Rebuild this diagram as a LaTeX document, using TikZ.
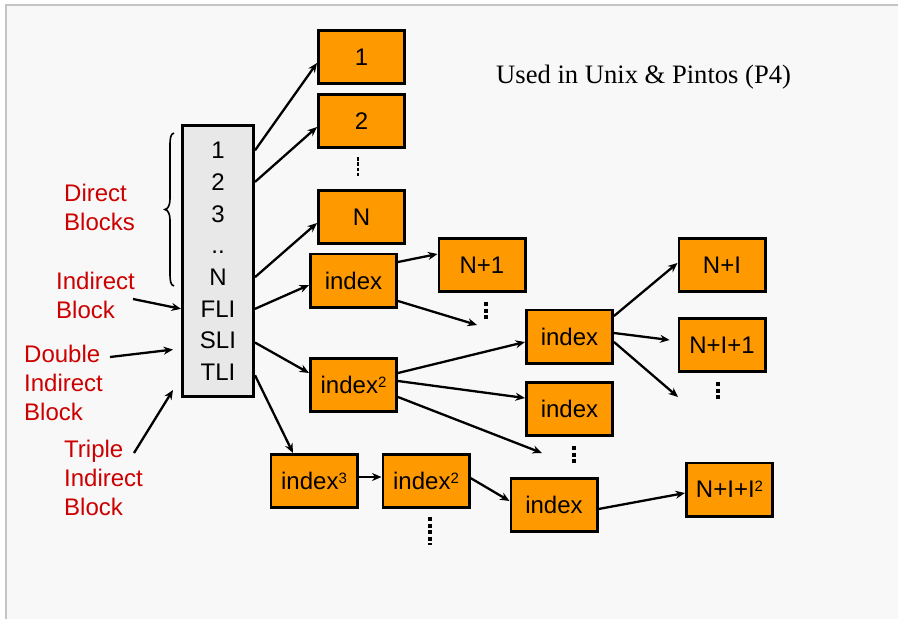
\documentclass[tikz,border=0pt]{standalone}
\usepackage{fontspec}
\setmainfont{Liberation Sans}
\newfontfamily\serifface{Liberation Serif}
\usetikzlibrary{arrows.meta,calc}
\definecolor{bg}{HTML}{F8F8F8}
\definecolor{framegray}{HTML}{C4C4C4}
\definecolor{org}{HTML}{FF9900}
\definecolor{inodegray}{HTML}{E8E8E8}
\definecolor{lbl}{HTML}{CC0000}
\newcommand{\sqx}[1]{\raisebox{6.5pt}{\fontsize{15}{15}\selectfont #1}}
\begin{document}
\begin{tikzpicture}[x=1pt,y=-1pt,
  blk/.style={draw=black,line width=2.6pt,fill=org,minimum width=86.4pt,minimum height=53.4pt,inner sep=0pt,font=\fontsize{24}{28}\selectfont},
  arr/.style={line width=2.3pt,-{Stealth[length=9.5pt,width=8pt]}},
  lbltext/.style={text=lbl,align=left,anchor=north west,inner sep=0pt,font=\fontsize{24}{29}\selectfont},
  inl/.style={anchor=base,inner sep=0pt,font=\fontsize{24}{28}\selectfont},
  vdots/.style={line width=3.2pt,dash pattern=on 4pt off 2.5pt},
  thindots/.style={line width=2.4pt,dash pattern=on 3.5pt off 1.8pt}]
\useasboundingbox (0,0) rectangle (898,619);
\fill[white] (0,0) rectangle (898,619);
\fill[bg] (6,5) rectangle (898,619);
\draw[framegray,line width=1.7pt] (5.8,619) -- (5.8,5) -- (898,5);

% title
\node[anchor=base west,inner sep=0pt,font=\serifface\fontsize{26.6}{30}\selectfont] (title) at (496,83.5) {Used in Unix \& Pintos (P4)};

% inode
\node[draw=black,line width=2.6pt,fill=inodegray,minimum width=71.4pt,minimum height=271.4pt,inner sep=0pt] (inode) at (218,261) {};
\node[inl] (l1) at (218,158.6) {1};
\node[inl] (l2) at (218,190.3) {2};
\node[inl] (l3) at (218,222.0) {3};
\node[inl] (l4) at (218,253.7) {..};
\node[inl] (l5) at (218,285.4) {N};
\node[inl] (l6) at (218,317.1) {FLI};
\node[inl] (l7) at (218,348.8) {SLI};
\node[inl] (l8) at (218,380.5) {TLI};

% brace
\draw[line width=1.6pt] (174,133) .. controls (170.5,134) and (170,138) .. (170,146) -- (170,199)
  .. controls (170,205) and (168,209) .. (165,209.5)
  .. controls (168,210) and (170,214) .. (170,220) -- (170,273)
  .. controls (170,281) and (170.5,285) .. (174,286);

% red labels
\node[lbltext] (lblDir) at (64,184) {Direct\\Blocks};
\node[lbltext] (lblInd) at (56,272) {Indirect\\Block};
\node[lbltext] (lblDbl) at (24,345) {Double\\Indirect\\Block};
\node[lbltext] (lblTri) at (64,440) {Triple\\Indirect\\Block};
\coordinate (sInd) at (133,299);
\coordinate (sDbl) at (110,357);
\coordinate (sTri) at (134,453);
\draw[arr] (sInd) -- (inode.west |- l6);
\draw[arr] (sDbl) -- ($(inode.west |- l7)+(-8,9)$);
\draw[arr] (sTri) -- ($(inode.south west)+(-8,-8)$);

% data / index blocks
\node[blk] (b1) at (361.5,57) {1};
\node[blk] (b2) at (361.5,121) {2};
\node[blk] (bN) at (361.5,217) {N};
\node[blk] (idx1) at (353.5,280.5) {index};
\node[blk] (np1) at (482,265) {N+1};
\node[blk] (idx2a) at (353.5,385) {index\sqx{2}};
\node[blk] (idx3) at (314,481) {index\sqx{3}};
\node[blk] (idx2b) at (426,481) {index\sqx{2}};
\node[blk] (idxU) at (569.5,336.5) {index};
\node[blk] (idxL) at (569.5,409) {index};
\node[blk] (idxB) at (554,505) {index};
\node[blk] (ni) at (722,265) {N+I};
\node[blk] (ni1) at (722,345) {N+I+1};
\node[blk] (nii) at (729.5,489.5) {N+I+I\sqx{2}};

% vertical dots
\draw[thindots] (358,157) -- (358,177);
\draw[vdots] (486,302) -- (486,321);
\draw[vdots] (430,517) -- (430,545);
\draw[vdots] (574,446) -- (574,465);
\draw[vdots] (718,382) -- (718,401);

% free ends toward dots
\coordinate (e1) at (477,325);
\coordinate (e2) at (542,453);
\coordinate (e3) at (678,397);

% arrows from inode
\draw[arr] (inode.east |- l1) -- ([yshift=-6pt]b1.west);
\draw[arr] (inode.east |- l2) -- ([yshift=-6pt]b2.west);
\draw[arr] (inode.east |- l5) -- ([yshift=-6pt]bN.west);
\draw[arr] (inode.east |- l6) -- ([yshift=-4.5pt]idx1.west);
\draw[arr] ([yshift=-2pt]inode.east |- l7) -- ([yshift=12pt]idx2a.west);
\draw[arr] ([yshift=-3pt]inode.east |- l8) -- ([xshift=-21pt]idx3.north);

% single indirect
\draw[arr] ([yshift=18.5pt]idx1.east) -- ([yshift=11pt]np1.west);
\draw[arr] ([yshift=-20.5pt]idx1.east) -- (e1);

% double indirect
\draw[arr] ([yshift=12pt]idx2a.east) -- ([yshift=-5.5pt]idxU.west);
\draw[arr] ([yshift=4pt]idx2a.east) -- ([yshift=11pt]idxL.west);
\draw[arr] ([yshift=-12pt]idx2a.east) -- (e2);
\draw[arr] ([yshift=20.5pt]idxU.east) -- ([yshift=2pt]ni.west);
\draw[arr,shorten >=8pt] ([yshift=3.5pt]idxU.east) -- ([yshift=4pt]ni1.west);
\draw[arr] ([yshift=-5.5pt]idxU.east) -- (e3);

% triple indirect
\draw[arr] ([yshift=4pt]idx3.east) -- ([yshift=4pt]idx2b.west);
\draw[arr] ([yshift=3pt]idx2b.east) -- ([yshift=4pt]idxB.west);
\draw[arr] ([yshift=-4pt]idxB.east) -- ([yshift=-3.5pt]nii.west);
\end{tikzpicture}
\end{document}
